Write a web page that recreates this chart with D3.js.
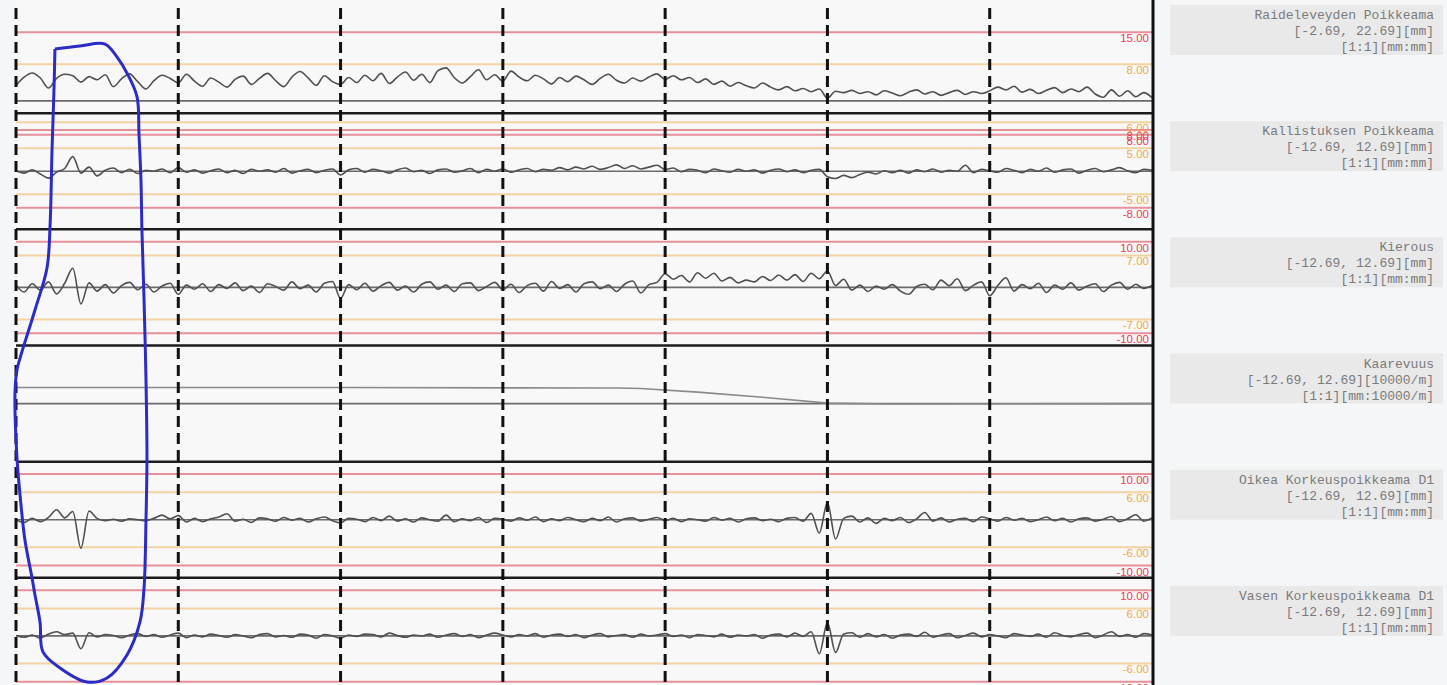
<!DOCTYPE html>
<meta charset="utf-8">
<style>
body { margin: 0; background: #f5f6f7; }
.plotbg { fill: #f8f8f9; }
.thr-red { stroke: #e6909a; stroke-width: 2; }
.thr-orange { stroke: #f3d3a2; stroke-width: 2; }
.thr-label { font: 11.5px "Liberation Sans", Arial, sans-serif; text-anchor: end; }
.lbl-red { fill: #e8414f; }
.lbl-orange { fill: #f0aa3c; }
.zero { stroke: #6b6b6b; stroke-width: 1.6; }
.divider { stroke: #1c1c1c; stroke-width: 2.5; }
.signal { fill: none; stroke: #505050; stroke-width: 1.6; }
.curv { fill: none; stroke: #8a8a8a; stroke-width: 1.6; }
.grid { stroke: #111; stroke-width: 3; stroke-dasharray: 11,6; }
.sep { stroke: #111; stroke-width: 3; }
.infobox { fill: #e9e9ea; }
.info text { font: 13px "Liberation Mono", monospace; fill: #7a7a7a; text-anchor: end; }
.mark { fill: none; stroke: #2b2bc6; stroke-width: 3; stroke-linejoin: round; }
</style>
<body>
<svg width="1447" height="685"></svg>
<script src="https://d3js.org/d3.v7.min.js"></script>
<script>
// panels, top to bottom
var panelNames = ["Raideleveyden Poikkeama", "Kallistuksen Poikkeama", "Kierous",
                  "Kaarevuus", "Oikea Korkeuspoikkeama D1", "Vasen Korkeuspoikkeama D1"];
var panelDomains = [[-2.69, 22.69], [-12.69, 12.69], [-12.69, 12.69],
                    [-12.69, 12.69], [-12.69, 12.69], [-12.69, 12.69]];
var panelUnits = ["mm", "mm", "mm", "10000/m", "mm", "mm"];
var panelRatios = ["[1:1][mm:mm]", "[1:1][mm:mm]", "[1:1][mm:mm]",
                   "[1:1][mm:10000/m]", "[1:1][mm:mm]", "[1:1][mm:mm]"];

// alarm limits per panel
var gaugeLimits = [{v: 15, label: "15.00", level: "red"}, {v: 8, label: "8.00", level: "orange"}];
var cantLimits = [{v: 10.7, label: "6.00", level: "orange"}, {v: 9, label: "8.00", level: "red"},
                  {v: 8, label: "8.00", level: "red"}, {v: 5, label: "5.00", level: "orange"},
                  {v: -5, label: "-5.00", level: "orange"}, {v: -8, label: "-8.00", level: "red"}];
var twistLimits = [{v: 10, label: "10.00", level: "red"}, {v: 7, label: "7.00", level: "orange"},
                   {v: -7, label: "-7.00", level: "orange"}, {v: -10, label: "-10.00", level: "red"}];
var curvLimits = [];
var levelLimits = [{v: 10, label: "10.00", level: "red"}, {v: 6, label: "6.00", level: "orange"},
                   {v: -6, label: "-6.00", level: "orange"}, {v: -10, label: "-10.00", level: "red"}];

// distance markers (every 100 units), last one is the frame edge
var distTicks = [0, 100, 200, 300, 400, 500, 600];
var distEnd = 700;
var step = 5;

var gaugeValues = [
  3.4,5.2,6.1,5.0,2.8,4.9,5.8,5.5,4.1,5.3,
  4.6,5.7,3.1,4.8,5.9,4.2,2.6,4.4,5.6,4.9,
  3.9,5.8,4.3,3.2,5.0,4.1,3.0,4.7,5.4,3.6,
  4.9,6.0,4.4,3.1,5.2,6.4,5.0,3.4,5.5,4.2,
  3.6,5.1,4.0,5.6,4.4,6.0,3.8,5.2,6.3,4.5,
  5.8,4.0,6.6,7.2,5.1,3.9,5.3,6.8,4.6,5.7,
  4.3,6.5,5.2,4.4,5.6,4.8,3.7,5.1,4.2,5.4,
  4.6,3.6,4.9,5.8,4.5,3.9,5.0,4.3,5.2,5.9,
  4.7,5.5,4.6,5.1,4.0,4.8,3.6,4.3,3.2,4.0,
  3.3,2.8,3.9,3.0,2.4,3.1,2.2,2.7,2.0,2.6,
  0.6,2.1,1.8,2.3,1.6,2.0,1.3,2.2,1.7,1.1,
  1.9,2.4,1.5,2.0,1.2,1.8,2.3,1.4,2.0,1.6,
  2.2,3.0,2.4,3.2,1.9,2.5,1.6,2.3,2.9,1.8,
  2.6,2.0,3.0,1.5,0.8,2.4,1.0,2.2,0.9,1.8,
  0.7];

var cantValues = [
  0.1,-0.4,0.3,-0.6,-1.5,-0.2,0.6,3.2,-0.4,0.9,
  -1.0,0.2,0.7,-0.3,0.4,-0.5,0.2,0.0,0.5,-0.3,
  0.8,-0.2,0.3,-0.4,0.1,0.5,-0.3,0.2,-0.5,0.4,
  0.0,0.3,-0.2,0.6,-0.4,0.1,0.4,-0.3,0.2,0.5,
  -0.8,0.3,0.6,-0.2,0.4,0.1,-0.4,0.3,0.7,-0.1,
  0.2,-0.5,0.3,0.5,-0.2,0.1,0.6,-0.3,0.4,0.0,
  0.5,-0.2,0.3,0.6,-0.1,0.4,0.2,0.8,0.3,0.9,
  0.5,1.1,0.4,0.8,1.4,0.6,1.2,0.5,0.9,1.3,
  0.4,0.7,-0.1,0.4,0.2,-0.3,0.5,0.1,-0.2,0.4,
  0.0,0.3,-0.4,0.2,0.5,-0.1,0.3,-0.3,0.2,0.4,
  -1.2,-1.6,-0.9,-1.4,-0.7,-0.2,-0.6,0.1,-0.3,0.2,
  -0.4,0.3,-0.1,0.5,-0.2,0.2,0.0,1.3,-0.3,0.4,
  0.1,-0.2,0.6,0.2,-0.3,0.4,0.0,0.7,-0.2,0.3,
  0.5,-0.4,0.2,0.6,-0.1,0.3,0.8,0.1,-0.3,0.4,
  0.2];

var twistValues = [
  0.5,-1.0,0.8,-0.6,1.2,-1.4,0.9,4.2,-3.6,1.0,
  -0.8,0.6,-1.2,0.4,1.1,-0.5,0.7,-1.0,0.3,0.9,
  -1.5,0.5,-0.4,0.8,-0.9,0.6,-0.2,1.0,-0.7,0.3,
  -1.1,0.8,0.2,-0.6,1.2,-0.3,0.5,-1.0,0.9,1.3,
  -2.4,0.6,-0.5,0.9,-0.8,0.4,1.1,-0.6,0.3,-1.0,
  0.7,1.2,-0.4,0.5,-0.9,0.8,1.0,-0.7,0.2,1.1,
  -0.5,0.7,-1.1,0.4,0.9,-0.8,1.3,-0.2,0.6,-1.0,
  0.8,1.2,-0.3,0.5,-0.9,0.7,1.4,-1.2,0.6,1.1,
  3.0,1.8,2.6,1.2,3.2,2.0,3.1,1.4,2.2,1.0,
  1.6,1.2,2.4,1.5,2.7,1.6,2.8,1.3,3.1,1.9,
  3.6,0.4,1.8,-0.6,0.5,-0.9,0.3,-0.4,0.6,-0.8,
  -1.5,0.2,0.7,-0.5,1.6,0.4,1.9,-0.7,0.5,1.2,
  -1.8,0.4,2.1,-0.8,0.6,-0.3,0.9,-1.1,0.5,-0.4,
  1.0,-0.6,0.3,0.8,-0.9,0.5,1.1,-0.4,0.7,-0.2,
  0.4];

// curvature: [distance, value] break points
var curvPoints = [[0, 3.5], [200, 3.5], [370, 3.4], [385, 3.3], [420, 2.5],
                  [460, 1.4], [500, 0.1], [540, -0.1], [700, 0]];

var rightLevelValues = [
  0.0,-0.6,0.3,-0.4,0.5,2.2,0.4,1.8,-6.2,1.9,
  0.3,-0.2,0.1,-0.3,0.2,0.0,-0.2,0.3,1.0,0.2,
  0.9,-0.5,0.3,-0.4,0.2,0.6,1.3,-0.3,0.1,-0.6,
  0.4,0.2,-0.3,0.5,-0.1,0.3,-0.5,0.2,0.6,-0.2,
  -0.7,0.3,0.1,-0.4,0.5,-0.2,0.8,-0.3,0.2,-0.5,
  0.4,0.0,-0.3,1.0,-0.4,0.2,-0.2,0.5,-0.6,0.3,
  0.1,-0.3,0.4,-0.1,0.6,-0.4,0.2,-0.2,0.5,0.0,
  -0.4,0.3,-0.2,0.6,-0.5,0.2,0.4,-0.3,0.1,0.5,
  -0.2,0.3,-0.4,0.2,0.0,-0.3,0.5,-0.1,0.3,-0.5,
  0.2,0.4,-0.2,0.1,-0.4,0.3,0.5,-0.3,1.4,-2.9,
  3.8,-4.2,0.3,0.8,-0.5,0.4,-0.8,0.3,-0.2,0.5,
  -0.6,0.2,1.6,-0.3,0.4,-0.5,0.1,0.3,-0.4,0.6,
  0.2,-0.3,0.5,-0.1,0.3,-0.4,0.0,0.6,-0.2,0.3,
  -0.5,0.2,0.4,-0.3,0.1,0.7,-0.4,0.2,1.1,-0.3,
  0.4];

var leftLevelValues = [
  0.1,-0.3,0.2,-0.5,0.4,0.9,0.3,0.6,-2.8,0.7,
  -0.2,0.3,0.1,-0.4,0.2,0.5,-0.1,0.3,-0.3,0.2,
  0.6,-0.4,0.2,-0.2,0.4,0.1,-0.3,0.3,0.0,-0.4,
  0.3,0.5,-0.2,0.1,-0.3,0.4,0.2,-0.5,0.3,0.0,
  -0.5,0.2,-0.1,0.4,0.3,-0.2,0.6,0.1,-0.3,0.2,
  0.0,0.4,-0.3,0.2,0.5,-0.1,0.3,-0.4,0.2,0.6,
  0.2,-0.2,0.3,0.0,0.5,-0.3,0.2,0.4,-0.1,0.3,
  -0.4,0.2,0.5,-0.2,0.1,0.3,-0.3,0.4,0.0,0.2,
  0.5,-0.1,0.2,-0.4,0.3,0.1,-0.2,0.4,-0.3,0.2,
  0.0,0.3,-0.5,0.2,0.4,-0.2,0.6,-0.1,0.9,-3.9,
  2.9,-3.6,0.4,0.7,-0.3,0.5,-0.2,0.3,-0.5,0.2,
  0.4,-0.1,0.8,-0.3,0.2,0.5,-0.4,0.1,0.6,-0.2,
  0.3,0.0,-0.4,0.5,0.2,-0.1,0.4,-0.3,0.7,0.1,
  -0.2,0.3,0.6,-0.4,0.2,0.9,-0.1,0.3,-0.3,0.5,
  0.2];

// hand-drawn highlight: [distance, panel position]
var highlight = [[24.0,0.448],[39.4,0.422],[54.8,0.405],[62.2,0.516],[69.0,0.671],[74.6,0.861],
  [75.8,1.188],[77.0,1.575],[77.6,2.006],[78.9,2.608],[80.1,3.297],[80.7,3.968],[80.1,4.502],
  [78.9,5.087],[76.4,5.380],[68.4,5.664],[56.1,5.862],[43.8,5.897],[27.1,5.776],[16.6,5.638],
  [14.8,5.380],[11.7,5.148],[9.9,5.001],[5.5,4.674],[2.5,4.287],[0.6,3.968],[-0.6,3.400],
  [0.6,3.211],[2.5,3.108],[11.7,2.694],[19.1,2.333],[21.0,1.963],[22.2,1.317],[23.4,0.801],[24.0,0.448]];

var series = [gaugeValues, cantValues, twistValues, null, rightLevelValues, leftLevelValues];
var limits = [gaugeLimits, cantLimits, twistLimits, curvLimits, levelLimits, levelLimits];

var svg = d3.select("svg");
var x = d3.scaleLinear().domain([0, distEnd]).range([16, 1152]);
var band = d3.scaleLinear().domain([0, 6]).range([-3, 694]);

svg.append("rect").attr("class", "plotbg")
    .attr("x", x(0)).attr("y", 0)
    .attr("width", x(distEnd) - x(0)).attr("height", 685);

var g = svg.append("g");

panelNames.forEach(function(name, i) {
  var y = d3.scaleLinear().domain(panelDomains[i]).range([band(i + 1), band(i)]);
  var p = g.append("g");

  p.selectAll("line.thr")
    .data(limits[i])
    .enter().append("line")
      .attr("class", function(d) { return "thr thr-" + d.level; })
      .attr("x1", x(0)).attr("x2", x(distEnd))
      .attr("y1", function(d) { return y(d.v); })
      .attr("y2", function(d) { return y(d.v); });

  p.append("line").attr("class", "zero")
      .attr("x1", x(0)).attr("x2", x(distEnd))
      .attr("y1", y(0)).attr("y2", y(0));

  if (series[i]) {
    var line = d3.line()
        .x(function(d, k) { return x(k * step); })
        .y(function(d) { return y(d); })
        .curve(d3.curveMonotoneX);
    p.append("path").datum(series[i]).attr("class", "signal").attr("d", line);
  } else {
    var cline = d3.line()
        .x(function(d) { return x(d[0]); })
        .y(function(d) { return y(d[1]); });
    p.append("path").datum(curvPoints).attr("class", "curv").attr("d", cline);
  }

  p.selectAll("text.thr-label")
    .data(limits[i])
    .enter().append("text")
      .attr("class", function(d) { return "thr-label lbl-" + d.level; })
      .attr("x", x(distEnd) - 3)
      .attr("y", function(d) { return y(d.v) + 10; })
      .text(function(d) { return d.label; });

  if (i > 0) {
    g.append("line").attr("class", "divider")
        .attr("x1", x(0)).attr("x2", x(distEnd))
        .attr("y1", band(i)).attr("y2", band(i));
  }

  // info box on the right
  var info = svg.append("g").attr("class", "info");
  var top = band(i) + 8;
  info.append("rect").attr("class", "infobox")
      .attr("x", 1170).attr("y", top).attr("width", 273).attr("height", 50);
  var dom = panelDomains[i];
  var rows = [name, "[" + dom[0].toFixed(2) + ", " + dom[1].toFixed(2) + "][" + panelUnits[i] + "]", panelRatios[i]];
  info.selectAll("text").data(rows).enter().append("text")
      .attr("x", 1434)
      .attr("y", function(d, k) { return top + 14 + k * 16; })
      .text(function(d) { return d; });
});

// dashed distance markers
g.selectAll("line.grid")
  .data(distTicks)
  .enter().append("line")
    .attr("class", "grid")
    .attr("x1", function(d) { return x(d); })
    .attr("x2", function(d) { return x(d); })
    .attr("y1", 8).attr("y2", 685);

svg.append("line").attr("class", "sep")
    .attr("x1", x(distEnd) + 1).attr("x2", x(distEnd) + 1)
    .attr("y1", 0).attr("y2", 685);

// highlight drawn over the chart
svg.append("path").datum(highlight).attr("class", "mark")
    .attr("d", d3.line()
      .x(function(d) { return x(d[0]); })
      .y(function(d) { return band(d[1]); })
      .curve(d3.curveCatmullRom.alpha(0.5)));
</script>
